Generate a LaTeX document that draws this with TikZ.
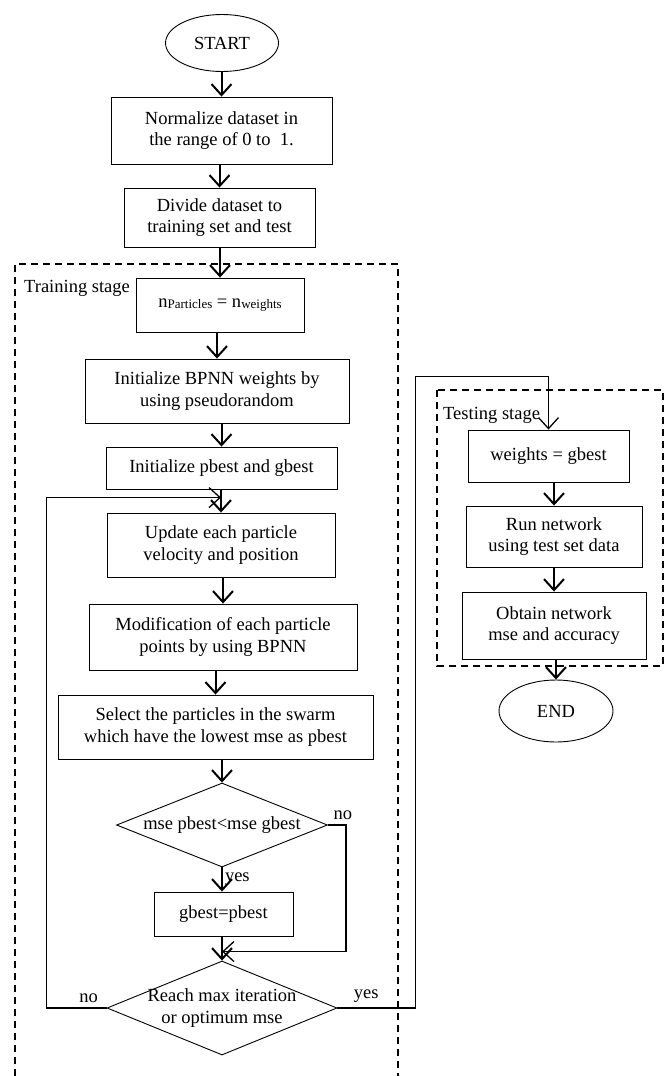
\documentclass[tikz,border=0pt]{standalone}
\usepackage{fontspec}
\setmainfont{Liberation Serif}
\usetikzlibrary{shapes.geometric,arrows.meta,calc}
\tikzset{
      base/.style = { font=\fontsize{18.5}{21.5}\selectfont, inner sep=0pt },
       box/.style = { base, draw, line width=0.9pt, align=center },
      term/.style = { base, draw, ellipse, line width=0.9pt },
  decision/.style = { base, draw, diamond, line width=0.9pt },
     stage/.style = { base, anchor=west },
      dims/.style 2 args = { minimum width=#1pt, minimum height=#2pt },
     arrow/.style = { line width=2pt, -{Straight Barb[length=11pt,width=20pt]} },
      back/.style = { arrow, line width=1.3pt },
     frame/.style = { line width=1.3pt, dash pattern=on 7pt off 5pt },
     label/.style = { base, above, yshift=5pt },
}
\newcommand*{\sub}[1]{\raisebox{-1.5pt}{\fontsize{13}{13}\selectfont #1}}

\begin{document}
\begin{tikzpicture}[x=1pt, y=-1pt]
  \useasboundingbox (0,0) rectangle (670,1076);

  % stage frames
  \draw[frame] (15,1076) -- (15,264) -- (398,264) -- (398,1076);
  \draw[frame] (437,390) rectangle (663,666);
  \node[stage] (train) at (24,288) {Training stage};
  \node[stage] (test)  at (443,415) {Testing stage};

  % training side
  \node[term, dims={113}{57}]     (start)   at (222,43)    {START};
  \node[box, dims={221}{67}]      (norm)    at (221.5,130.5)
    {Normalize dataset in\\the range of 0 to~ 1.};
  \node[box, dims={191}{59}]      (divide)  at (219.5,217.5)
    {Divide dataset to\\training set and test};
  \node[box, dims={168}{54}]      (npart)   at (220,305)
    {n\sub{Particles} = n\sub{weights}};
  \node[box, dims={264}{64}]      (initw)   at (217,391)
    {Initialize BPNN weights by\\using pseudorandom};
  \node[box, dims={231}{42}]      (initpb)  at (221.5,468)
    {Initialize pbest and gbest};
  \node[box, dims={228}{64}]      (update)  at (221,545)
    {Update each particle\\velocity and position};
  \node[box, dims={268}{66}]      (modify)  at (223,637)
    {Modification of each particle\\points by using BPNN};
  \node[box, dims={315}{64}]      (select)  at (215.5,727)
    {Select the particles in the swarm\\which have the lowest mse as pbest};
  \node[decision, dims={211}{84}] (dec1)    at (222,825)
    {\makebox[0pt]{mse pbest<mse gbest}};
  \node[box, dims={139}{44}]      (gbest)   at (223.5,914) {gbest=pbest};
  \node[decision, dims={230}{94}] (dec2)    at (222,1008)
    {\makebox[0pt]{\begin{tabular}{@{}c@{}}Reach max iteration\\or optimum mse\end{tabular}}};

  % testing side
  \node[box, dims={161}{52}]      (weights) at (548.5,456) {weights = gbest};
  \node[box, dims={176}{61}]      (run)     at (554,536.5)
    {Run network\\using test set data};
  \node[box, dims={184}{67}]      (obtain)  at (554,625.5)
    {Obtain network\\mse and accuracy};
  \node[term, dims={114}{62}]     (end)     at (556,711)   {END};

  \coordinate (loop) at ($(update.north)+(0,-15)$);
  \coordinate (join) at ($(dec2.north)+(0,-9)$);

  \foreach \a/\b in {start/norm,norm/divide,divide/npart,npart/initw,
      initw/initpb,initpb/update,update/modify,modify/select,select/dec1,
      gbest/dec2,weights/run,run/obtain,obtain/end} {
    \draw[arrow] (\a.south -| \b.north) -- (\b.north);
  }
  \draw[arrow] (dec1.south) -- node[base, right, xshift=2pt]{yes} (dec1.south |- gbest.north);
  \draw[back] (dec1.east) -- ++(18,0) node[label, xshift=-3pt]{no} |- (join);
  \draw[back] (dec2.west) -- node[label, pos=0.3]{no} ++(-60,0) |- (loop);
  \draw[back] (dec2.east) -- node[label, pos=0.37]{yes} ++(78,0)
    |- ($(weights.north)+(0,-53)$) -- (weights.north);
\end{tikzpicture}
\end{document}
